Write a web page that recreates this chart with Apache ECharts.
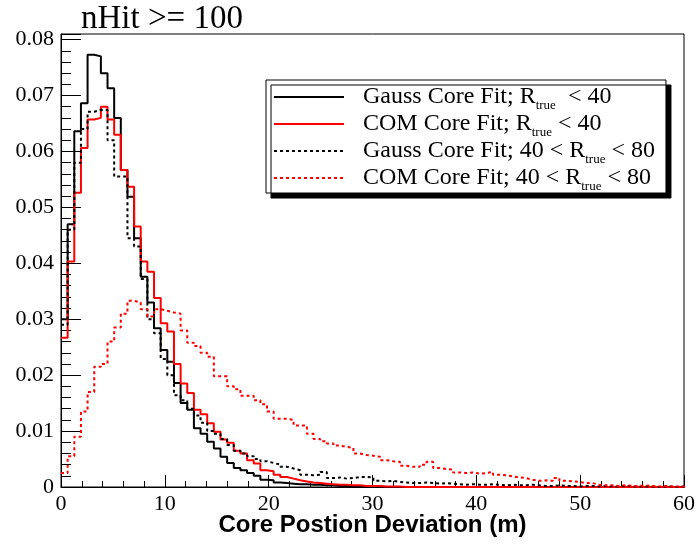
<!DOCTYPE html>
<html>
<head>
<meta charset="utf-8">
<script src="https://cdn.jsdelivr.net/npm/echarts@6/dist/echarts.min.js"></script>
<style>
  html, body { margin: 0; padding: 0; background: #fff; }
  #main { width: 696px; height: 547px; }
</style>
</head>
<body>
<div id="main"></div>
<script>
// histogram bins: width 0.64 m, starting at 0
var binWidth = 0.64;

// Gauss core fit, R_true < 40 (black solid)
var gaussIn = [
  0.0300, 0.0470, 0.0636, 0.0686, 0.0773, 0.0770, 0.0740, 0.0713, 0.0660, 0.0567,
  0.0519, 0.0445, 0.0376, 0.0330, 0.0284, 0.0245, 0.0224, 0.0186, 0.0150, 0.0138,
  0.0105, 0.0095, 0.0081, 0.0069, 0.0054, 0.0043, 0.0034, 0.0030, 0.0025, 0.0020,
  0.0013, 0.0012, 0.0008, 0.0007, 0.0006, 0.0005, 0.0005, 0.0004, 0.0004, 0.0003,
  0.0003, 0.0002, 0.0002, 0.0002, 0.0001, 0.0001, 0.0001, 0.0001, 0, 0,
  0, 0, 0, 0, 0, 0, 0, 0, 0, 0,
  0, 0, 0, 0, 0, 0, 0, 0, 0, 0,
  0, 0, 0, 0, 0, 0, 0, 0, 0, 0,
  0, 0, 0, 0, 0, 0, 0, 0, 0, 0,
  0, 0, 0, 0
];

// COM core fit, R_true < 40 (red solid)
var comIn = [
  0.0267, 0.0403, 0.0526, 0.0606, 0.0657, 0.0660, 0.0680, 0.0657, 0.0630, 0.0567,
  0.0537, 0.0466, 0.0403, 0.0385, 0.0338, 0.0293, 0.0278, 0.0220, 0.0185, 0.0168,
  0.0138, 0.0130, 0.0114, 0.0099, 0.0085, 0.0079, 0.0065, 0.0060, 0.0048, 0.0042,
  0.0030, 0.0028, 0.0022, 0.0018, 0.0015, 0.0012, 0.0010, 0.0008, 0.0007, 0.0006,
  0.0005, 0.0004, 0.0004, 0.0003, 0.0003, 0.0002, 0.0002, 0.0002, 0.0001, 0.0001,
  0.0001, 0, 0, 0, 0, 0, 0, 0, 0, 0,
  0, 0, 0, 0, 0, 0, 0, 0, 0, 0,
  0, 0, 0, 0, 0, 0, 0, 0, 0, 0,
  0, 0, 0, 0, 0, 0, 0, 0, 0, 0,
  0, 0, 0, 0
];

// Gauss core fit, 40 < R_true < 80 (black dotted)
var gaussOut = [
  0.0290, 0.0460, 0.0580, 0.0640, 0.0671, 0.0674, 0.0674, 0.0620, 0.0555, 0.0555,
  0.0445, 0.0430, 0.0372, 0.0300, 0.0275, 0.0229, 0.0200, 0.0164, 0.0155, 0.0140,
  0.0128, 0.0115, 0.0100, 0.0095, 0.0086, 0.0075, 0.0065, 0.0060, 0.0055, 0.0050,
  0.0046, 0.0043, 0.0040, 0.0036, 0.0033, 0.0030, 0.0022, 0.0021, 0.0022, 0.0027,
  0.0016, 0.0017, 0.0015, 0.0016, 0.0018, 0.0018, 0.0017, 0.0011, 0.0010, 0.0011,
  0.0009, 0.0008, 0.0007, 0.0007, 0.0008, 0.0007, 0.0006, 0.0007, 0.0006, 0.0005,
  0.0004, 0.0005, 0.0004, 0.0004, 0.0005, 0.0004, 0.0003, 0.0004, 0.0003, 0.0003,
  0.0004, 0.0003, 0.0002, 0.0002, 0.0003, 0.0002, 0.0002, 0.0001, 0.0002, 0.0002,
  0.0001, 0.0002, 0.0001, 0.0001, 0.0002, 0.0001, 0.0001, 0.0001, 0.0001, 0,
  0.0001, 0.0001, 0, 0.0001
];

// COM core fit, 40 < R_true < 80 (red dotted)
var comOut = [
  0.0025, 0.0055, 0.0090, 0.0135, 0.0170, 0.0215, 0.0220, 0.0260, 0.0285, 0.0310,
  0.0333, 0.0330, 0.0318, 0.0305, 0.0318, 0.0315, 0.0312, 0.0310, 0.0280, 0.0258,
  0.0252, 0.0240, 0.0233, 0.0198, 0.0198, 0.0180, 0.0175, 0.0163, 0.0163, 0.0155,
  0.0148, 0.0135, 0.0122, 0.0122, 0.0120, 0.0110, 0.0110, 0.0095, 0.0086, 0.0082,
  0.0078, 0.0074, 0.0072, 0.0070, 0.0060, 0.0057, 0.0056, 0.0054, 0.0048, 0.0046,
  0.0045, 0.0038, 0.0036, 0.0036, 0.0040, 0.0045, 0.0034, 0.0032, 0.0031, 0.0026,
  0.0025, 0.0026, 0.0024, 0.0025, 0.0027, 0.0022, 0.0021, 0.0019, 0.0017, 0.0016,
  0.0013, 0.0011, 0.0012, 0.0011, 0.0016, 0.0011, 0.0010, 0.0009, 0.0007, 0.0007,
  0.0004, 0.0003, 0.0003, 0.0002, 0.0003, 0.0002, 0.0002, 0.0003, 0.0002, 0.0001,
  0.0002, 0.0001, 0.0001, 0.0001
];

var seriesNames = [
  'Gauss Core Fit; R_true < 40',
  'COM Core Fit; R_true < 40',
  'Gauss Core Fit; 40 < R_true < 80',
  'COM Core Fit; 40 < R_true < 80'
];
var legendLabels = [
  '{m|Gauss Core Fit; R}{s|true}{m|  < 40}',
  '{m|COM Core Fit; R}{s|true}{m| < 40}',
  '{m|Gauss Core Fit; 40 < R}{s|true}{m| < 80}',
  '{m|COM Core Fit; 40 < R}{s|true}{m| < 80}'
];

// bin left edges + closing point at the right edge of the last bin
function histData(vals) {
  var pts = [];
  for (var i = 0; i < vals.length; i++) {
    pts.push([i * binWidth, vals[i]]);
  }
  pts.push([vals.length * binWidth, vals[vals.length - 1]]);
  return pts;
}

function histSeries(name, vals, color, dotted) {
  return {
    name: name,
    type: 'line',
    step: 'end',
    symbol: 'none',
    showSymbol: false,
    data: histData(vals),
    lineStyle: { color: color, width: 2, type: dotted ? [3, 3] : 'solid' },
    itemStyle: { color: color }
  };
}

var serif = 'Liberation Serif';
var chart = echarts.init(document.getElementById('main'));
chart.setOption({
  backgroundColor: '#fff',
  animation: false,
  title: {
    text: 'nHit >= 100',
    left: 76,
    top: -2,
    textStyle: { fontFamily: serif, fontSize: 33, fontWeight: 'normal', color: '#000' }
  },
  legend: {
    orient: 'vertical',
    left: 266,
    top: 80,
    itemWidth: 70,
    itemHeight: 14,
    itemGap: 0,
    padding: [5, 11, 0, 7],
    backgroundColor: '#fff',
    borderColor: '#000',
    borderWidth: 1,
    shadowColor: '#000',
    shadowBlur: 0,
    shadowOffsetX: 5,
    shadowOffsetY: 5,
    itemStyle: { opacity: 0 },
    data: seriesNames,
    formatter: function (name) {
      return legendLabels[seriesNames.indexOf(name)];
    },
    textStyle: {
      fontFamily: serif,
      fontSize: 24,
      color: '#000',
      padding: [0, 0, 0, 14],
      rich: {
        m: { fontFamily: serif, fontSize: 24, color: '#000', lineHeight: 22 },
        s: { fontFamily: serif, fontSize: 13, color: '#000', lineHeight: 30, verticalAlign: 'bottom' }
      }
    }
  },
  grid: {
    left: 61,
    right: 12,
    top: 34,
    bottom: 60,
    outerBoundsMode: 'none',
    show: true,
    borderColor: '#000',
    borderWidth: 1,
    backgroundColor: '#fff'
  },
  xAxis: {
    type: 'value',
    min: 0,
    max: 60,
    interval: 10,
    name: 'Core Postion Deviation (m)',
    nameLocation: 'middle',
    nameGap: 26,
    nameMoveOverlap: false,
    nameTextStyle: { fontFamily: 'Liberation Sans', fontWeight: 'bold', fontSize: 24, color: '#000' },
    axisLine: { show: true, lineStyle: { color: '#000', width: 1 } },
    axisTick: { show: true, inside: true, length: 12, lineStyle: { color: '#000' } },
    minorTick: { show: true, splitNumber: 5, length: 6, lineStyle: { color: '#000' } },
    axisLabel: { fontFamily: serif, fontSize: 22, color: '#000', margin: 6 },
    splitLine: { show: false }
  },
  yAxis: {
    type: 'value',
    min: 0,
    max: 0.081,
    interval: 0.01,
    axisLine: { show: true, lineStyle: { color: '#000', width: 1 } },
    axisTick: { show: true, inside: true, length: 20, lineStyle: { color: '#000' } },
    minorTick: { show: true, splitNumber: 5, length: 10, lineStyle: { color: '#000' } },
    axisLabel: {
      fontFamily: serif,
      fontSize: 22,
      color: '#000',
      margin: 7,
      showMaxLabel: false,
      formatter: function (v) { return v === 0 ? '0' : v.toFixed(2); }
    },
    splitLine: { show: false }
  },
  series: [
    histSeries(seriesNames[0], gaussIn, '#000', false),
    histSeries(seriesNames[1], comIn, '#ff0000', false),
    histSeries(seriesNames[2], gaussOut, '#000', true),
    histSeries(seriesNames[3], comOut, '#ff0000', true)
  ]
});
</script>
</body>
</html>
